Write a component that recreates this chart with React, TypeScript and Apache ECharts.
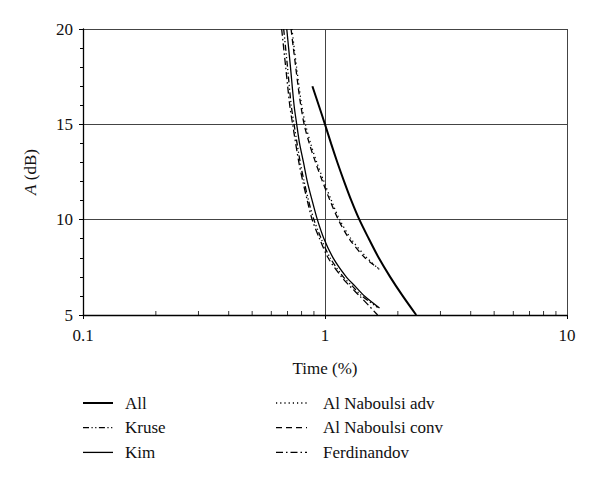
import React, { useEffect, useRef } from "react";
import * as echarts from "echarts";

const xTickLabels = ["0.1", "1", "10"];
const yTickValues = [5, 10, 15, 20];
const minorTickValues = [0.2, 0.3, 0.4, 0.5, 0.6, 0.7, 0.8, 0.9, 2, 3, 4, 5, 6, 7, 8, 9];

const allX = [0.887, 0.942, 1.0, 1.059, 1.125, 1.2, 1.285, 1.387, 1.517, 1.667, 1.858, 2.094, 2.382];
const allY = [17, 16, 15, 14, 13, 12, 11, 10, 9, 8, 7, 6, 5];

const kruseX = [0.675, 0.7, 0.725, 0.745, 0.79, 0.82, 0.855, 0.9, 0.965, 1.05, 1.19, 1.3, 1.42, 1.65];
const kruseY = [20, 18, 16, 15, 13, 12, 11, 10, 9, 8, 7, 6.5, 6, 5.4];

const kimX = [0.695, 0.72, 0.745, 0.764, 0.785, 0.815, 0.845, 0.885, 0.93, 0.99, 1.08, 1.224, 1.334, 1.455, 1.68];
const kimY = [20, 18, 16, 15, 14, 13, 12, 11, 10, 9, 8, 7, 6.5, 6, 5.37];

const advX = [0.73, 0.746, 0.763, 0.781, 0.801, 0.83, 0.872, 0.925, 0.99, 1.063, 1.15, 1.28, 1.49, 1.69];
const advY = [20, 19, 18, 17, 16, 15, 14, 13, 12, 11, 10, 9, 8, 7.35];

const convX = [0.724, 0.74, 0.757, 0.774, 0.794, 0.82, 0.861, 0.914, 0.977, 1.049, 1.135, 1.259, 1.462, 1.66];
const convY = [20, 19, 18, 17, 16, 15, 14, 13, 12, 11, 10, 9, 8, 7.45];

const ferdX = [0.662, 0.688, 0.715, 0.735, 0.78, 0.81, 0.845, 0.885, 0.95, 1.03, 1.17, 1.27, 1.39, 1.65];
const ferdY = [20, 18, 16, 15, 13, 12, 11, 10, 9, 8, 7, 6.5, 6, 5];

const legendLeft = ["All", "Kruse", "Kim"];
const legendRight = ["Al Naboulsi adv", "Al Naboulsi conv", "Ferdinandov"];

const FONT = "'Liberation Serif', 'Times New Roman', serif";

const STYLES: Record<string, { width: number; dash: number[] | null }> = {
  All: { width: 2, dash: null },
  Kruse: { width: 1.3, dash: [6, 2.5, 1.2, 2.5, 1.2, 2.5] },
  Kim: { width: 1.3, dash: null },
  "Al Naboulsi adv": { width: 1.3, dash: [1.2, 3] },
  "Al Naboulsi conv": { width: 1.3, dash: [6, 4] },
  Ferdinandov: { width: 1.3, dash: [7, 3, 1.5, 3] },
};

function pairs(xs: number[], ys: number[]) {
  return xs.map((x, i) => [x, ys[i]]);
}

export default function App() {
  const ref = useRef<HTMLDivElement>(null);
  useEffect(() => {
    if (!ref.current) return;
    const chart = echarts.init(ref.current, null, { renderer: "svg" });
    const mkLine = (name: string, data: number[][]) => ({
      name,
      type: "line",
      data,
      showSymbol: false,
      symbol: "none",
      smooth: 0.3,
      clip: true,
      lineStyle: {
        color: "#000",
        width: STYLES[name].width,
        type: STYLES[name].dash ?? "solid",
      },
      itemStyle: { color: "#000" },
    });

    const legendGraphics: any[] = [];
    const addCol = (names: string[], lx1: number, lx2: number, tx: number) => {
      names.forEach((n, i) => {
        const cy = 403 + i * 24.7;
        const st = STYLES[n];
        legendGraphics.push({
          type: "line",
          shape: { x1: lx1, y1: cy, x2: lx2, y2: cy },
          style: { stroke: "#000", lineWidth: st.width, lineDash: st.dash ?? undefined },
          silent: true,
        });
        legendGraphics.push({
          type: "text",
          x: tx,
          y: cy,
          style: {
            text: n,
            font: `17px ${FONT}`,
            fill: "#111",
            verticalAlign: "middle",
            align: "left",
          },
          silent: true,
        });
      });
    };
    addCol(legendLeft, 83, 113, 125);
    addCol(legendRight, 276, 307, 323);

    chart.setOption({
      animation: false,
      backgroundColor: "#fff",
      textStyle: { fontFamily: FONT },
      grid: { left: 83, right: 33, top: 29, bottom: 167, containLabel: false },
      xAxis: {
        type: "log",
        logBase: 10,
        min: 0.1,
        max: 10,
        name: "Time (%)",
        nameLocation: "middle",
        nameGap: 45,
        nameTextStyle: { fontFamily: FONT, fontSize: 17, color: "#111" },
        axisLine: { show: true, lineStyle: { color: "#000", width: 1.3 } },
        axisTick: { show: true, length: 4, lineStyle: { color: "#000" } },
        axisLabel: {
          fontFamily: FONT,
          fontSize: 17,
          color: "#111",
          margin: 12,
          formatter: (v: number) => {
            const e = Math.round(Math.log10(v)) + 1;
            return xTickLabels[e] ?? String(v);
          },
        },
        splitLine: { show: true, lineStyle: { color: "#444", width: 1 } },
        minorTick: { show: false },
      },
      yAxis: {
        type: "value",
        min: 5,
        max: 20,
        interval: 5,
        name: "{i|A} (dB)",
        nameLocation: "middle",
        nameRotate: 90,
        nameGap: 44,
        nameTextStyle: {
          fontFamily: FONT,
          fontSize: 17,
          color: "#111",
          rich: { i: { fontFamily: FONT, fontSize: 17, fontStyle: "italic", color: "#111" } },
        },
        axisLine: { show: true, lineStyle: { color: "#000", width: 1.3 } },
        axisTick: { show: true, length: 4, lineStyle: { color: "#000" } },
        minorTick: { show: true, splitNumber: 5, length: 3, lineStyle: { color: "#000" } },
        axisLabel: {
          fontFamily: FONT,
          fontSize: 17,
          color: "#111",
          margin: 10,
          formatter: (v: number) => (yTickValues.includes(v) ? String(v) : ""),
        },
        splitLine: { show: true, lineStyle: { color: "#444", width: 1 } },
      },
      graphic: legendGraphics,
      series: [
        mkLine("All", pairs(allX, allY)),
        mkLine("Kruse", pairs(kruseX, kruseY)),
        mkLine("Kim", pairs(kimX, kimY)),
        mkLine("Al Naboulsi adv", pairs(advX, advY)),
        mkLine("Al Naboulsi conv", pairs(convX, convY)),
        mkLine("Ferdinandov", pairs(ferdX, ferdY)),
        {
          name: "minorTicks",
          type: "scatter",
          data: minorTickValues.map((v) => [v, 5]),
          symbol: "rect",
          symbolSize: [1, 4],
          symbolOffset: [0, -2],
          itemStyle: { color: "#000" },
          silent: true,
          clip: false,
          z: 10,
        },
      ],
    });
    return () => chart.dispose();
  }, []);
  return (
    <div
      ref={ref}
      style={{ position: "fixed", left: 0, top: 0, width: 600, height: 482 }}
    />
  );
}
